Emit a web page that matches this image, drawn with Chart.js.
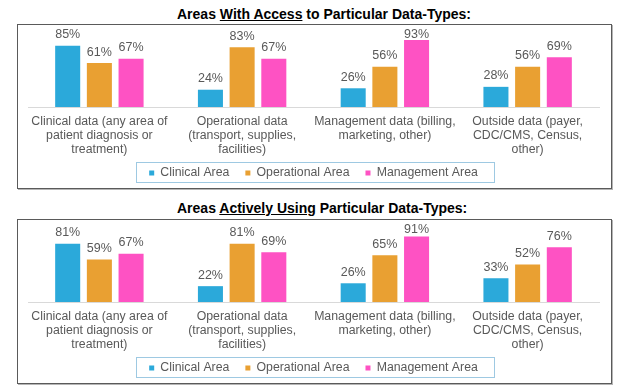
<!DOCTYPE html>
<html>
<head>
<meta charset="utf-8">
<script src="https://cdn.jsdelivr.net/npm/chart.js@4/dist/chart.umd.min.js"></script>
<style>
  html, body { margin: 0; padding: 0; background: #ffffff; }
  body { width: 624px; height: 389px; position: relative; overflow: hidden; font-family: "Liberation Sans", Arial, sans-serif; }
  .title { position: absolute; left: 177px; font-weight: bold; font-size: 14px; line-height: 16px; color: #000; white-space: nowrap; }
  .box { position: absolute; left: 17px; width: 595px; height: 165px; box-sizing: border-box; border: 1px solid #5a5a5a; box-shadow: 1px 1px 0 #b5b5b5; }
  canvas { position: absolute; left: 18px; }
</style>
</head>
<body>
<div class="title" style="top:6px;">Areas <u>With Access</u> to Particular Data-Types:</div>
<div class="box" style="top:24px;"></div>
<canvas id="c1" width="593" height="163" style="top:25px;"></canvas>

<div class="title" style="top:200px;">Areas <u>Actively Using</u> Particular Data-Types:</div>
<div class="box" style="top:219px;"></div>
<canvas id="c2" width="593" height="163" style="top:220px;"></canvas>

<script>
const categories = [
  ["Clinical data (any area of", "patient diagnosis or", "treatment)"],
  ["Operational data", "(transport, supplies,", "facilities)"],
  ["Management data (billing,", "marketing, other)"],
  ["Outside data (payer,", "CDC/CMS, Census,", "other)"]
];
const seriesNames = ["Clinical Area", "Operational Area", "Management Area"];
const seriesColors = ["#2ba9da", "#e9a032", "#fe52c3"];

// Chart 1: Areas With Access
const accessClinical    = [85, 24, 26, 28];
const accessOperational = [61, 83, 56, 56];
const accessManagement  = [67, 67, 93, 69];

// Chart 2: Areas Actively Using
const usingClinical    = [81, 22, 26, 33];
const usingOperational = [59, 81, 65, 52];
const usingManagement  = [67, 69, 91, 76];

const FONT = "'Liberation Sans', Arial, sans-serif";
const TXT = "#595959";
const LEGEND_PAD = 16;
const LEGEND_FONT = 12.3;
const LEGEND_CENTER_Y = 148;

const dataLabels = {
  id: "dataLabels",
  afterDatasetsDraw(chart) {
    const ctx = chart.ctx;
    ctx.save();
    ctx.font = "12.5px " + FONT;
    ctx.fillStyle = TXT;
    ctx.textAlign = "center";
    ctx.textBaseline = "middle";
    chart.data.datasets.forEach((ds, i) => {
      const meta = chart.getDatasetMeta(i);
      meta.data.forEach((bar, j) => {
        const y = Math.max(bar.y - 11, chart.chartArea.top - 0.5);
        ctx.fillText(ds.data[j] + "%", bar.x, y);
      });
    });
    ctx.restore();
  }
};

const legendPlace = {
  id: "legendPlace",
  afterLayout(chart) {
    const lg = chart.legend;
    if (!lg) return;
    const top = LEGEND_CENTER_Y - LEGEND_PAD - LEGEND_FONT / 2;
    lg.top = top;
    lg.bottom = chart.height;
    lg.height = lg.bottom - lg.top;
  }
};

const legendBorder = {
  id: "legendBorder",
  afterDraw(chart) {
    const lg = chart.legend;
    if (!lg || !lg.legendHitBoxes || !lg.legendHitBoxes.length) return;
    const hb = lg.legendHitBoxes[0];
    const cy = hb.top + hb.height / 2;
    const cx = chart.width / 2;
    const ctx = chart.ctx;
    ctx.save();
    ctx.strokeStyle = "#9ec9e2";
    ctx.lineWidth = 1;
    ctx.strokeRect(Math.round(cx - 179) + 0.5, Math.round(cy - 11) + 0.5, 358, 20);
    ctx.restore();
  }
};

function makeChart(id, a, b, c) {
  const vals = [a, b, c];
  new Chart(document.getElementById(id), {
    type: "bar",
    data: {
      labels: categories,
      datasets: vals.map((v, i) => ({
        label: seriesNames[i],
        data: v,
        backgroundColor: seriesColors[i],
        borderWidth: 0,
        categoryPercentage: 0.666,
        barPercentage: 0.79
      }))
    },
    options: {
      responsive: false,
      animation: false,
      devicePixelRatio: 1,
      layout: { padding: { top: 10, left: 10, right: 12, bottom: 0 } },
      scales: {
        x: {
          grid: { display: false, drawTicks: false },
          border: { display: true, color: "#d9d9d9", width: 1 },
          ticks: {
            color: TXT,
            font: { family: FONT, size: 12.3, lineHeight: 1.138 },
            padding: 8,
            maxRotation: 0,
            autoSkip: false
          },
          afterFit(s) { s.height = 58; }
        },
        y: { display: false, min: 0, max: 100 }
      },
      plugins: {
        legend: {
          position: "bottom",
          maxHeight: 23,
          labels: {
            color: TXT,
            font: { family: FONT, size: LEGEND_FONT },
            boxWidth: 5,
            boxHeight: 5,
            padding: LEGEND_PAD
          }
        },
        tooltip: { enabled: false },
        title: { display: false }
      }
    },
    plugins: [legendPlace, dataLabels, legendBorder]
  });
}

makeChart("c1", accessClinical, accessOperational, accessManagement);
makeChart("c2", usingClinical, usingOperational, usingManagement);
</script>
</body>
</html>
